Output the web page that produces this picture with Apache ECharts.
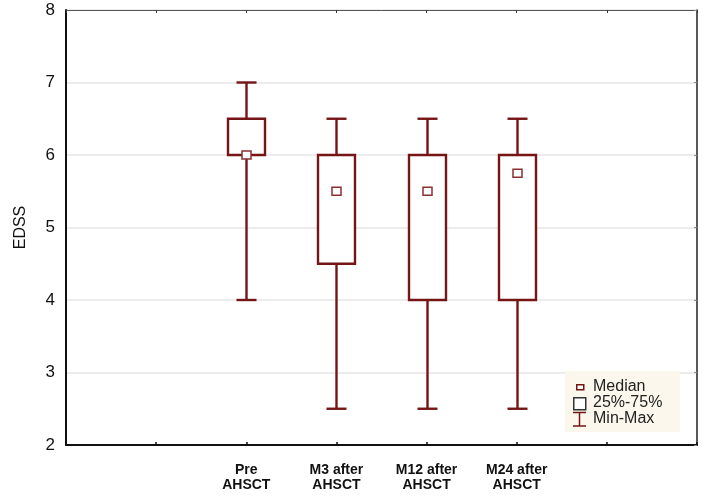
<!DOCTYPE html>
<html>
<head>
<meta charset="utf-8">
<script src="https://cdn.jsdelivr.net/npm/echarts@6/dist/echarts.min.js"></script>
<style>
html,body{margin:0;padding:0;background:#fff;}
#chart{width:708px;height:498px;}
</style>
</head>
<body>
<div id="chart"></div>
<script>
// Data
var categories = ['Pre\nAHSCT', 'M3 after\nAHSCT', 'M12 after\nAHSCT', 'M24 after\nAHSCT'];
var minValues    = [4.0, 2.5, 2.5, 2.5];
var q1Values     = [6.0, 4.5, 4.0, 4.0];
var medianValues = [6.0, 5.5, 5.5, 5.75];
var q3Values     = [6.5, 6.0, 6.0, 6.0];
var maxValues    = [7.0, 6.5, 6.5, 6.5];
var yTicks = [2, 3, 4, 5, 6, 7, 8];

// axis slots: two empty slots before and after the categories
var axisCats = ['', ''].concat(categories).concat(['', '']);
var offset = 2;

var seriesData = categories.map(function (c, i) {
  return [i + offset, minValues[i], q1Values[i], medianValues[i], q3Values[i], maxValues[i]];
});

var RED = '#751515';

var chart = echarts.init(document.getElementById('chart'), null, {renderer: 'canvas'});

function renderItem(params, api) {
  var x = api.value(0);
  var pMin = api.coord([x, api.value(1)]);
  var pQ1 = api.coord([x, api.value(2)]);
  var pMed = api.coord([x, api.value(3)]);
  var pQ3 = api.coord([x, api.value(4)]);
  var pMax = api.coord([x, api.value(5)]);
  var cx = Math.round(pMin[0]) + 0.5;
  var boxW = 37, capW = 20, medW = 9, medH = 8;
  var lw = 2.4;
  return {
    type: 'group',
    children: [
      {type: 'line', shape: {x1: cx, y1: pMax[1], x2: cx, y2: pQ3[1]}, style: {stroke: RED, lineWidth: lw}},
      {type: 'line', shape: {x1: cx, y1: pQ1[1], x2: cx, y2: pMin[1]}, style: {stroke: RED, lineWidth: lw}},
      {type: 'line', shape: {x1: cx - capW / 2, y1: pMax[1], x2: cx + capW / 2, y2: pMax[1]}, style: {stroke: RED, lineWidth: lw}},
      {type: 'line', shape: {x1: cx - capW / 2, y1: pMin[1], x2: cx + capW / 2, y2: pMin[1]}, style: {stroke: RED, lineWidth: lw}},
      {type: 'rect', shape: {x: cx - boxW / 2, y: pQ3[1], width: boxW, height: pQ1[1] - pQ3[1]}, style: {fill: '#fff', stroke: RED, lineWidth: lw}},
      {type: 'rect', shape: {x: cx - medW / 2, y: pMed[1] - medH / 2, width: medW, height: medH}, style: {fill: '#fff', stroke: '#8a3030', lineWidth: 1.5}}
    ]
  };
}

var option = {
  backgroundColor: '#ffffff',
  animation: false,
  grid: {left: 66, right: 11, top: 10, bottom: 53},
  xAxis: [{
    type: 'category',
    data: axisCats,
    boundaryGap: false,
    position: 'bottom',
    axisLine: {lineStyle: {color: '#111', width: 2}},
    axisTick: {inside: true, length: 3, lineStyle: {color: '#111', width: 1.5}},
    axisLabel: {
      interval: 0,
      margin: 18,
      color: '#111',
      fontFamily: 'Liberation Sans, Arial, sans-serif',
      fontWeight: 'bold',
      fontSize: 14,
      lineHeight: 15
    },
    splitLine: {show: false}
  }, {
    type: 'category',
    data: axisCats,
    boundaryGap: false,
    position: 'top',
    axisLine: {lineStyle: {color: '#555', width: 1}},
    axisTick: {inside: true, length: 3, lineStyle: {color: '#333', width: 1}},
    axisLabel: {show: false},
    splitLine: {show: false}
  }],
  yAxis: [{
    type: 'value',
    min: 2, max: 8, interval: 1,
    name: 'EDSS',
    nameLocation: 'middle',
    nameGap: 37,
    nameRotate: 90,
    nameTextStyle: {color: '#111', fontSize: 16, fontFamily: 'Liberation Sans, Arial, sans-serif'},
    axisLine: {show: true, lineStyle: {color: '#111', width: 2}},
    axisTick: {show: false},
    axisLabel: {
      color: '#111', fontSize: 17, margin: 11,
      fontFamily: 'Liberation Sans, Arial, sans-serif',
      formatter: function (v) { return yTicks.indexOf(v) >= 0 ? String(v) : ''; }
    },
    splitLine: {show: true, lineStyle: {color: '#e6e6e6', width: 1.5}}
  }, {
    type: 'value',
    min: 2, max: 8, interval: 1,
    position: 'right',
    axisLine: {show: true, lineStyle: {color: '#222', width: 1.5}},
    axisTick: {show: true, inside: true, length: 3, lineStyle: {color: '#888'}},
    axisLabel: {show: false},
    splitLine: {show: false}
  }],
  series: [{
    type: 'custom',
    xAxisIndex: 0,
    yAxisIndex: 0,
    renderItem: renderItem,
    encode: {x: 0, y: [1, 2, 3, 4, 5]},
    data: seriesData,
    z: 5
  }],
  graphic: [
    {type: 'rect', left: 565, top: 371, shape: {width: 115, height: 61}, style: {fill: '#fbf7ec'}, z: 10},
    {type: 'rect', left: 576, top: 384, shape: {width: 7, height: 5}, style: {fill: '#fff', stroke: RED, lineWidth: 1.5}, z: 11},
    {type: 'rect', left: 573, top: 397, shape: {width: 12, height: 12}, style: {fill: '#fff', stroke: '#333', lineWidth: 1.5}, z: 11},
    {type: 'line', shape: {x1: 579.5, y1: 412, x2: 579.5, y2: 426}, style: {stroke: RED, lineWidth: 1.5}, z: 11},
    {type: 'line', shape: {x1: 573, y1: 412.5, x2: 586, y2: 412.5}, style: {stroke: RED, lineWidth: 1.5}, z: 11},
    {type: 'line', shape: {x1: 573, y1: 426, x2: 586, y2: 426}, style: {stroke: RED, lineWidth: 1.5}, z: 11},
    {type: 'text', left: 593, top: 379, style: {text: 'Median', fill: '#222', font: '16px "Liberation Sans", Arial, sans-serif'}, z: 11},
    {type: 'text', left: 593, top: 395, style: {text: '25%-75%', fill: '#222', font: '16px "Liberation Sans", Arial, sans-serif'}, z: 11},
    {type: 'text', left: 593, top: 411, style: {text: 'Min-Max', fill: '#222', font: '16px "Liberation Sans", Arial, sans-serif'}, z: 11}
  ]
};
chart.setOption(option);
</script>
</body>
</html>
